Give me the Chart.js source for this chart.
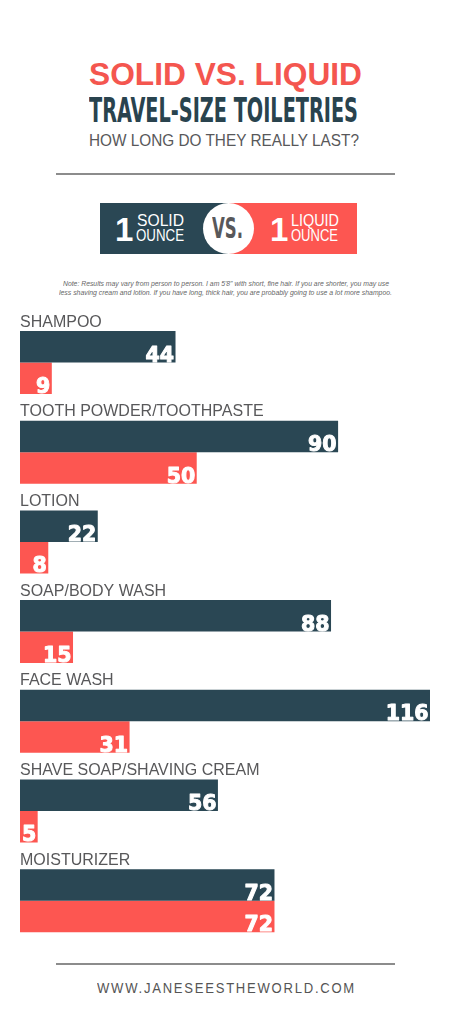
<!DOCTYPE html>
<html>
<head>
<meta charset="utf-8">
<script src="https://cdn.jsdelivr.net/npm/chart.js@4/dist/chart.umd.min.js"></script>
<style>
  html, body { margin: 0; padding: 0; background: #fff; }
  body { width: 451px; height: 1024px; position: relative; overflow: hidden; font-family: "Liberation Sans", Arial, sans-serif; }
  .t { position: absolute; white-space: nowrap; line-height: 1; transform-origin: left top; }
  .rule { position: absolute; left: 56px; width: 339px; height: 2px; background: #8c8c8c; }
  #chart { position: absolute; left: 0; top: 300px; }
</style>
</head>
<body>
<div class="t" data-w="273" style="left:89px; top:58px; font-size:32px; font-weight:bold; color:#f4564f;">SOLID VS. LIQUID</div>
<div class="t" data-w="269" style="left:89px; top:94px; font-size:33px; font-weight:bold; color:#29434e; font-family:'Liberation Sans Narrow','DejaVu Sans Condensed',sans-serif;">TRAVEL-SIZE TOILETRIES</div>
<div class="t" data-w="270" style="left:89px; top:132.5px; font-size:16px; color:#58585a;">HOW LONG DO THEY REALLY LAST?</div>
<div class="rule" style="top:173px;"></div>

<div style="position:absolute; left:100px; top:203px; width:128px; height:51px; background:#2a4754;"></div>
<div style="position:absolute; left:228px; top:203px; width:129px; height:51px; background:#fd5651;"></div>
<div style="position:absolute; left:202.5px; top:203px; width:51px; height:51px; border-radius:50%; background:#fff;"></div>
<div class="t" style="left:115px; top:213px; font-size:33px; font-weight:bold; color:#fff;">1</div>
<div class="t" data-w="47" style="left:137px; top:213px; font-size:16px; color:#fff;">SOLID</div>
<div class="t" data-w="48" style="left:136px; top:228px; font-size:16px; color:#fff;">OUNCE</div>
<div class="t" data-w="31" style="left:211.5px; top:214px; font-size:29px; font-weight:bold; color:#58585a; font-family:'Liberation Sans Narrow','DejaVu Sans Condensed',sans-serif;">VS.</div>
<div class="t" style="left:270px; top:213px; font-size:33px; font-weight:bold; color:#fff;">1</div>
<div class="t" data-w="48" style="left:290.5px; top:213px; font-size:16px; color:#fff;">LIQUID</div>
<div class="t" data-w="47" style="left:291px; top:228px; font-size:16px; color:#fff;">OUNCE</div>

<div class="t" data-w="326" style="left:63px; top:279.5px; font-size:7px; font-style:italic; color:#666;">Note: Results may vary from person to person. I am 5'8" with short, fine hair. If you are shorter, you may use</div>
<div class="t" data-w="333" style="left:58.5px; top:288.5px; font-size:7px; font-style:italic; color:#666;">less shaving cream and lotion. If you have long, thick hair, you are probably going to use a lot more shampoo.</div>

<canvas id="chart" width="451" height="650"></canvas>

<div class="rule" style="top:963px;"></div>
<div class="t" data-w="259" style="left:97px; top:980px; font-size:15px; letter-spacing:2px; color:#555;">WWW.JANESEESTHEWORLD.COM</div>

<script>
const categories = ['SHAMPOO', 'TOOTH POWDER/TOOTHPASTE', 'LOTION', 'SOAP/BODY WASH', 'FACE WASH', 'SHAVE SOAP/SHAVING CREAM', 'MOISTURIZER'];
const solidDays = [44, 90, 22, 88, 116, 56, 72];
const liquidDays = [9, 50, 8, 15, 31, 5, 72];

// squeeze header texts to the measured widths
document.querySelectorAll('[data-w]').forEach(el => {
  const w = el.getBoundingClientRect().width;
  el.style.transform = 'scaleX(' + (el.dataset.w / w) + ')';
});

const barLabels = {
  id: 'barLabels',
  afterDatasetsDraw(chart) {
    const ctx = chart.ctx;
    ctx.save();
    // category names above each pair of bars
    ctx.fillStyle = '#58585a';
    ctx.font = '16px "Liberation Sans", Arial, sans-serif';
    ctx.textAlign = 'left';
    ctx.textBaseline = 'alphabetic';
    chart.getDatasetMeta(0).data.forEach((bar, i) => {
      ctx.fillText(categories[i], chart.chartArea.left, bar.y - bar.height / 2 - 4.5);
    });
    // values at the end of each bar, slightly stroked to look heavier
    ctx.fillStyle = '#fff';
    ctx.strokeStyle = '#fff';
    ctx.lineWidth = 1;
    ctx.lineJoin = 'round';
    ctx.font = 'bold 20.5px "DejaVu Sans", sans-serif';
    ctx.textAlign = 'right';
    chart.data.datasets.forEach((ds, di) => {
      chart.getDatasetMeta(di).data.forEach((bar, i) => {
        const x = bar.x - 1.5, y = bar.y + bar.height / 2 - 1;
        ctx.strokeText(ds.data[i], x, y);
        ctx.fillText(ds.data[i], x, y);
      });
    });
    ctx.restore();
  }
};

new Chart(document.getElementById('chart'), {
  type: 'bar',
  data: {
    labels: categories,
    datasets: [
      {label: '1 solid ounce', data: solidDays, backgroundColor: '#2a4754'},
      {label: '1 liquid ounce', data: liquidDays, backgroundColor: '#fd5651'}
    ]
  },
  options: {
    indexAxis: 'y',
    responsive: false,
    animation: false,
    categoryPercentage: 0.7023,
    barPercentage: 1,
    layout: {padding: {left: 20, right: 21, top: 17.65, bottom: 4.45}},
    scales: {
      x: {display: false, min: 0, max: 116},
      y: {display: false}
    },
    plugins: {legend: {display: false}, tooltip: {enabled: false}}
  },
  plugins: [barLabels]
});
</script>
</body>
</html>
